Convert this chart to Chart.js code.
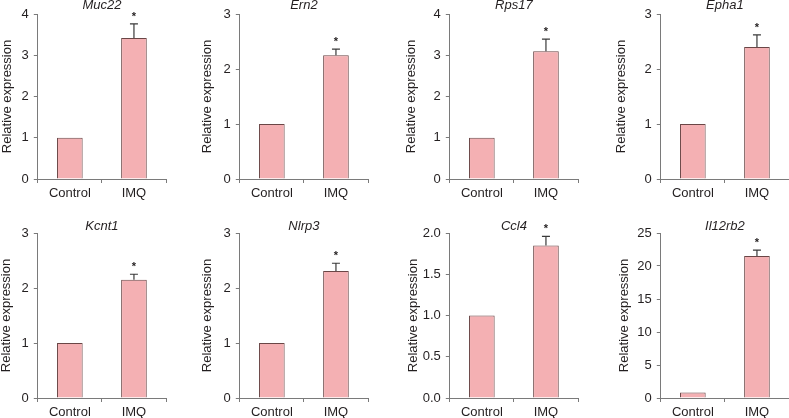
<!DOCTYPE html>
<html>
<head>
<meta charset="utf-8">
<script src="https://cdn.jsdelivr.net/npm/chart.js@4/dist/chart.umd.min.js"></script>
<style>
  html, body { margin: 0; padding: 0; background: #ffffff; }
  body { width: 789px; height: 418px; position: relative; overflow: hidden; }
  canvas { position: absolute; }
</style>
</head>
<body>
<script>
// ---- data ----
const genes = ['Muc22', 'Ern2', 'Rps17', 'Epha1', 'Kcnt1', 'Nlrp3', 'Ccl4', 'Il12rb2'];
const categories = ['Control', 'IMQ'];
const controlValues = [1, 1, 1, 1, 1, 1, 1, 0.85];
const imqValues = [3.42, 2.25, 3.10, 2.40, 2.15, 2.31, 1.85, 21.5];
const imqErrors = [0.34, 0.11, 0.29, 0.22, 0.10, 0.14, 0.11, 0.9];
const imqSignificance = ['*', '*', '*', '*', '*', '*', '*', '*'];
const yTickLabels = [
  ['0', '1', '2', '3', '4'],
  ['0', '1', '2', '3'],
  ['0', '1', '2', '3', '4'],
  ['0', '1', '2', '3'],
  ['0', '1', '2', '3'],
  ['0', '1', '2', '3'],
  ['0.0', '0.5', '1.0', '1.5', '2.0'],
  ['0', '5', '10', '15', '20', '25']
];
const yAxisTitle = 'Relative expression';

// ---- layout (positions only) ----
const panelAxisX = [38, 240, 450, 661, 38, 240, 450, 661];
const panelTitleOffset = [30, 32, 38, 39, 31, 32, 36, 36];
const rowChartTop = [14, 233];
const rowTitleGap = [9, 7];
const plotWidth = 128, plotHeight = 165, titleBox = 17, xAxisHeight = 30;

const FONT = "'Liberation Sans', Arial, sans-serif";
const TEXT = '#231f20';
const AXIS = '#7a7a7a';
const BAR_FILL = '#f4b0b3';
const BAR_BORDER = '#6a4646';
const ERR = '#3a3a3a';

// panel title centred over the plot area (gene name, italic)
const panelTitlePlugin = {
  id: 'panelTitle',
  afterDraw(chart, args, opts) {
    const ctx = chart.ctx;
    const a = chart.chartArea;
    ctx.save();
    ctx.fillStyle = TEXT;
    ctx.font = 'italic 13px ' + FONT;
    ctx.textAlign = 'center';
    ctx.textBaseline = 'middle';
    ctx.fillText(opts.text, (a.left + a.right) / 2, a.top - opts.gap);
    ctx.restore();
  }
};

const errorBarPlugin = {
  id: 'errorBars',
  afterDatasetsDraw(chart, args, opts) {
    const ctx = chart.ctx;
    const y = chart.scales.y;
    const meta = chart.getDatasetMeta(0);
    const el = meta.data[1];
    const top = y.getPixelForValue(opts.value + opts.error);
    ctx.save();
    ctx.strokeStyle = ERR;
    ctx.lineWidth = 1.2;
    ctx.beginPath();
    ctx.moveTo(el.x, el.y);
    ctx.lineTo(el.x, top);
    ctx.moveTo(el.x - 4, top);
    ctx.lineTo(el.x + 4, top);
    ctx.stroke();
    ctx.fillStyle = TEXT;
    ctx.font = 'bold 11px ' + FONT;
    ctx.textAlign = 'center';
    ctx.textBaseline = 'middle';
    ctx.fillText(opts.mark, el.x, top - 7);
    ctx.restore();
  }
};

genes.forEach((gene, i) => {
  const row = i < 4 ? 0 : 1;
  const W = panelTitleOffset[i] + 7.8;
  const axisX = panelAxisX[i];
  const canvas = document.createElement('canvas');
  const cw = Math.round(W + plotWidth + 1);
  const ch = titleBox + plotHeight + xAxisHeight;
  canvas.width = cw;
  canvas.height = ch;
  canvas.style.width = cw + 'px';
  canvas.style.height = ch + 'px';
  canvas.style.left = (axisX - W) + 'px';
  canvas.style.top = (rowChartTop[row] - titleBox) + 'px';
  document.body.appendChild(canvas);

  const tickVals = yTickLabels[i].map(parseFloat);
  const yMax = tickVals[tickVals.length - 1];

  new Chart(canvas, {
    type: 'bar',
    data: {
      labels: categories,
      datasets: [{
        data: [controlValues[i], imqValues[i]],
        backgroundColor: BAR_FILL,
        borderColor: BAR_BORDER,
        borderWidth: 1,
        barPercentage: 0.4,
        categoryPercentage: 1.0
      }]
    },
    options: {
      responsive: false,
      animation: false,
      devicePixelRatio: 1,
      layout: { padding: { top: titleBox, right: 1, bottom: 0, left: 0 } },
      plugins: {
        legend: { display: false },
        tooltip: { enabled: false },
        title: { display: false },
        panelTitle: { text: gene, gap: rowTitleGap[row] },
        errorBars: { value: imqValues[i], error: imqErrors[i], mark: imqSignificance[i] }
      },
      scales: {
        x: {
          type: 'category',
          offset: true,
          grid: { display: true, drawOnChartArea: false, drawTicks: true, tickLength: 4, color: AXIS, offset: true, lineWidth: 1 },
          border: { display: true, color: AXIS, width: 1 },
          ticks: { color: TEXT, padding: 3, font: { family: FONT, size: 13 }, maxRotation: 0 },
          afterFit(scale) { scale.height = xAxisHeight; }
        },
        y: {
          min: 0,
          max: yMax,
          afterBuildTicks(scale) { scale.ticks = tickVals.map(v => ({ value: v })); },
          grid: { display: true, drawOnChartArea: false, drawTicks: true, tickLength: 4, color: AXIS, lineWidth: 1 },
          border: { display: true, color: AXIS, width: 1 },
          ticks: {
            color: TEXT,
            padding: 5,
            font: { family: FONT, size: 13 },
            callback(value, index) { return yTickLabels[i][index]; }
          },
          title: {
            display: true,
            text: yAxisTitle,
            color: TEXT,
            padding: 0,
            font: { family: FONT, size: 13 }
          },
          afterFit(scale) { scale.width = W; }
        }
      }
    },
    plugins: [errorBarPlugin, panelTitlePlugin]
  });
});
</script>
</body>
</html>
